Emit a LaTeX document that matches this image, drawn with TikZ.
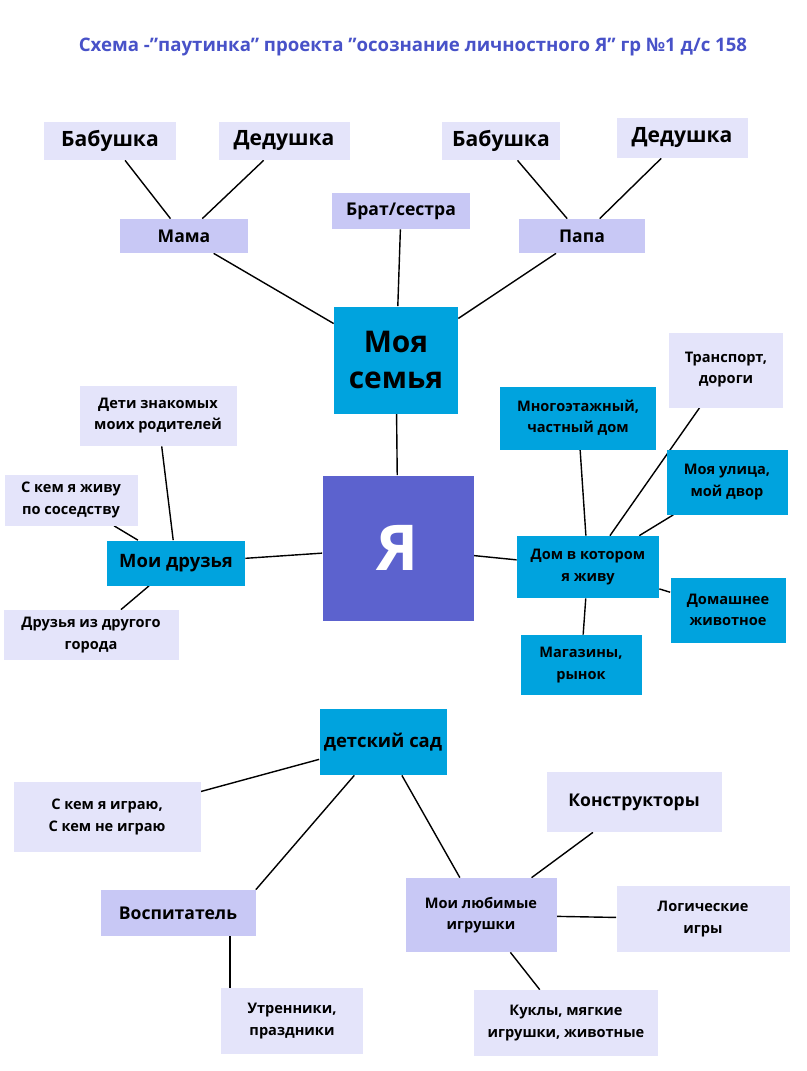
\documentclass[tikz,border=0pt]{standalone}
\usepackage{fontspec}
\setmainfont[Ligatures=ResetAll]{Open Sans}
\usetikzlibrary{backgrounds}
\definecolor{lightbox}{RGB}{228,228,250}
\definecolor{midbox}{RGB}{200,200,245}
\definecolor{cyanbox}{RGB}{0,163,222}
\definecolor{yabox}{RGB}{92,98,206}
\definecolor{titleblue}{RGB}{72,82,200}
\tikzset{
  sz/.style 2 args={minimum width=#1*0.02cm, minimum height=#2*0.02cm},
  light/.style={fill=lightbox, inner sep=1pt, align=center},
  mid/.style={fill=midbox, inner sep=1pt, align=center},
  cyan/.style={fill=cyanbox, inner sep=1pt, align=center},
  big/.style={font=\fontsize{12}{14}\selectfont\bfseries},
  small/.style={font=\fontsize{8.3}{12}\selectfont\bfseries},
  link/.style={line width=0.8pt}
}
\newcommand{\q}{\symbol{34}}
\begin{document}
\begin{tikzpicture}[x=0.02cm, y=-0.02cm]
\useasboundingbox (0,0) rectangle (806,1071);
\node[text=titleblue, font=\fontsize{10.6}{12}\selectfont\bfseries] (title) at (413,47) {Схема -\q паутинка\q{} проекта \q осознание личностного Я\q{} гр №1 д/с 158};

\node[light, big, sz={132}{38}] (babL) at (110,141) {Бабушка};
\node[light, big, sz={131}{38}] (dedL) at (284,141) {Дедушка};
\node[mid, font=\fontsize{10}{12}\selectfont\bfseries, sz={128}{34}] (mama) at (184,236) {Мама};
\node[mid, font=\fontsize{10}{12}\selectfont\bfseries, sz={138}{36}] (brat) at (401,211) {Брат/сестра};
\node[light, big, sz={118}{38}] (babR) at (501,141) {Бабушка};
\node[light, big, sz={131}{40}] (dedR) at (682,138) {Дедушка};
\node[mid, font=\fontsize{10}{12}\selectfont\bfseries, sz={126}{34}] (papa) at (582,236) {Папа};
\node[cyan, font=\fontsize{17}{21}\selectfont\bfseries, sz={124}{107}] (semya) at (396,360) {Моя\\семья};
\node[fill=yabox, text=white, font=\fontsize{36}{40}\selectfont\bfseries, sz={151}{145}] (ya) at (398,548) {Я};

\node[light, small, sz={157}{60}] (deti) at (158,416) {Дети знакомых\\моих родителей};
\node[light, small, sz={133}{51}] (sosed) at (71,500) {С кем я живу\\по соседству};
\node[cyan, font=\fontsize{10.5}{12}\selectfont\bfseries, sz={138}{45}] (druzya) at (176,563) {Мои друзья};
\node[light, small, sz={175}{50}] (gorod) at (91,635) {Друзья из другого\\города};

\node[cyan, small, sz={156}{63}] (mnogo) at (578,418) {Многоэтажный,\\частный дом};
\node[light, small, sz={114}{75}] (transp) at (726,370) {Транспорт,\\дороги};
\node[cyan, small, sz={121}{65}] (ulica) at (727,482) {Моя улица,\\мой двор};
\node[cyan, small, sz={142}{62}] (dom) at (588,567) {Дом в котором\\я живу};
\node[cyan, small, sz={115}{65}] (zhivot) at (728,610) {Домашнее\\животное};
\node[cyan, small, sz={121}{60}] (magaz) at (581,665) {Магазины,\\рынок};

\node[cyan, font=\fontsize{10.5}{12}\selectfont\bfseries, sz={127}{66}] (sad) at (383,742) {детский сад};
\node[light, small, sz={187}{70}] (igraju) at (107,817) {С кем я играю,\\С кем не играю};
\node[light, font=\fontsize{10}{12}\selectfont\bfseries, sz={175}{60}] (konstr) at (634,802) {Конструкторы};
\node[mid, small, sz={151}{74}] (igrushki) at (481,915) {Мои любимые\\игрушки};
\node[light, small, sz={173}{66}] (logic) at (703,919) {Логические\\игры};
\node[mid, font=\fontsize{10}{12}\selectfont\bfseries, sz={155}{46}] (vosp) at (178,913) {Воспитатель};
\node[light, small, sz={142}{66}] (utren) at (292,1021) {Утренники,\\праздники};
\node[light, small, sz={184}{66}] (kukly) at (566,1023) {Куклы, мягкие\\игрушки, животные};

\begin{scope}[on background layer]
\draw[link] (babL) -- (mama);
\draw[link] (dedL) -- (mama);
\draw[link] (mama) -- (semya);
\draw[link] (brat) -- (semya);
\draw[link] (papa) -- (semya);
\draw[link] (babR) -- (papa);
\draw[link] (dedR) -- (papa);
\draw[link] (semya) -- (ya);
\draw[link] (ya) -- (druzya);
\draw[link] (ya) -- (dom);
\draw[link] (deti) -- (druzya);
\draw[link] (sosed) -- (druzya);
\draw[link] (gorod) -- (druzya);
\draw[link] (dom) -- (mnogo);
\draw[link] (dom) -- (transp);
\draw[link] (dom) -- (ulica);
\draw[link] (dom) -- (zhivot);
\draw[link] (dom) -- (magaz);
\draw[link] (sad) -- (igraju);
\draw[link] (sad) -- (vosp.north east);
\draw[link] (sad) -- (igrushki);
\draw[link] (igrushki) -- (konstr);
\draw[link] (igrushki) -- (logic);
\draw[link] (igrushki) -- (kukly);
\draw[link] ([xshift=1.04cm]vosp.south) -- ([xshift=1.04cm]vosp.south |- utren.north);
\end{scope}
\end{tikzpicture}
\end{document}
